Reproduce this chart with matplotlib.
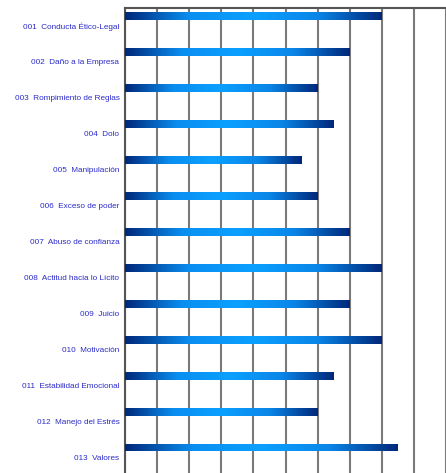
import numpy as np
import matplotlib
matplotlib.use("Agg")
import matplotlib.pyplot as plt
from matplotlib.colors import LinearSegmentedColormap

# Data
categorias = [
    "001  Conducta Ético-Legal",
    "002  Daño a la Empresa",
    "003  Rompimiento de Reglas",
    "004  Dolo",
    "005  Manipulación",
    "006  Exceso de poder",
    "007  Abuso de confianza",
    "008  Actitud hacia lo Lícito",
    "009  Juicio",
    "010  Motivación",
    "011  Estabilidad Emocional",
    "012  Manejo del Estrés",
    "013  Valores",
]
valores = [8, 7, 6, 6.5, 5.5, 6, 7, 8, 7, 8, 6.5, 6, 8.5]

plt.rcParams["font.family"] = ["Liberation Sans", "DejaVu Sans"]

fig = plt.figure(figsize=(4.46, 4.73), dpi=100)
ax = fig.add_axes([125 / 446, -0.005, 321 / 446, (473 - 8) / 473 + 0.005])

n = len(categorias)
y = np.arange(n)
offset = -0.27
alto = 0.21

cmap = LinearSegmentedColormap.from_list(
    "grad", ["#00287a", "#0a8ef0", "#0aa0ff", "#0a86e8", "#00287a"])

bars = ax.barh(y + offset, valores, height=alto, color="none", zorder=3)
for b, v in zip(bars, valores):
    grad = np.linspace(0, 1, 256).reshape(1, -1)
    im = ax.imshow(grad, cmap=cmap, aspect="auto", zorder=3,
                   extent=[0, v, b.get_y() + alto, b.get_y()],
                   interpolation="bicubic")
    im.set_clip_path(b)

ax.set_xlim(0, 10)
ax.set_ylim(n - 0.5, -0.5)
ax.set_aspect("auto")
ax.set_yticks(y)
ax.set_yticklabels(categorias, fontsize=5.9, color="#2b2bc8")
ax.tick_params(axis="y", length=0, pad=4)
ax.set_xticks(np.arange(0, 11))
ax.tick_params(axis="x", length=0, labelbottom=False)
ax.grid(axis="x", color="#7a7a7a", linewidth=1.5, zorder=1)
for s in ["left", "top"]:
    ax.spines[s].set_color("#555555")
    ax.spines[s].set_linewidth(1.5)
ax.spines["right"].set_visible(False)
ax.spines["bottom"].set_visible(False)

fig.savefig("out.png", dpi=100)
